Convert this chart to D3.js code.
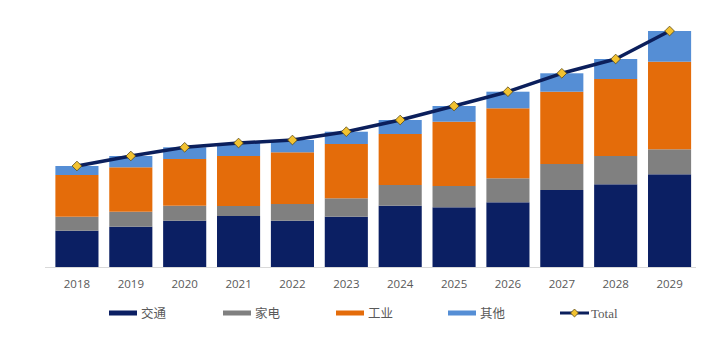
<!DOCTYPE html>
<html>
  <head>
    <meta charset="utf-8" />
    <script src="https://d3js.org/d3.v7.min.js"></script>
    <style>
      html, body {
        margin: 0;
        padding: 0;
        background: #fff;
      }
      #chart svg {
        display: block;
      }
    </style>
  </head>
  <body>
    <div id="chart"></div>
    <script>
      var width = 720;
      var height = 340;

      // data
      var years = ["2018", "2019", "2020", "2021", "2022", "2023", "2024", "2025", "2026", "2027", "2028", "2029"];
      var transport = [36.3, 40.3, 46.3, 51.0, 46.3, 50.3, 61.3, 59.7, 64.7, 77.0, 82.7, 92.7];   // 交通
      var appliance = [14.0, 15.0, 15.0, 10.0, 16.7, 18.4, 20.7, 21.3, 24.0, 26.0, 28.3, 25.0];  // 家电
      var industry = [41.7, 44.4, 46.7, 50.0, 51.7, 54.3, 51.0, 64.3, 70.0, 72.3, 77.0, 87.6];   // 工业
      var others = [9.0, 11.3, 11.7, 13.0, 12.3, 12.3, 14.0, 15.7, 16.6, 18.4, 20.0, 30.7];      // 其他

      var seriesNames = ["交通", "家电", "工业", "其他"];
      var seriesColors = ["#0b1f63", "#808080", "#e46c0a", "#558ed5"];
      var lineColor = "#0b1f5c";
      var markerColor = "#f2c230";

      var rows = years.map(function (y, i) {
        return { year: y, "交通": transport[i], "家电": appliance[i], "工业": industry[i], "其他": others[i] };
      });
      var totals = rows.map(function (r) {
        return { year: r.year, total: r["交通"] + r["家电"] + r["工业"] + r["其他"] };
      });

      var svg = d3.select("#chart").append("svg")
        .attr("width", width)
        .attr("height", height);

      var x = d3.scaleBand()
        .domain(years)
        .range([50, 696.5])
        .paddingInner(0.2)
        .paddingOuter(0.1);

      var y = d3.scaleLinear()
        .domain([0, 250])
        .range([267, 17]);

      var stack = d3.stack().keys(seriesNames);
      var layers = stack(rows);

      svg.append("g")
        .selectAll("g")
        .data(layers)
        .join("g")
        .attr("fill", function (d, i) { return seriesColors[i]; })
        .selectAll("rect")
        .data(function (d) { return d; })
        .join("rect")
        .attr("x", function (d) { return x(d.data.year); })
        .attr("width", x.bandwidth())
        .attr("y", function (d) { return y(d[1]); })
        .attr("height", function (d) { return y(d[0]) - y(d[1]); });

      // x axis
      var xAxis = svg.append("g")
        .attr("transform", "translate(0," + y(0) + ")")
        .call(d3.axisBottom(x).tickSize(0).tickPadding(13));
      xAxis.select(".domain")
        .attr("stroke", "#d9d9d9")
        .attr("d", "M45,0.5H696");
      xAxis.selectAll("text")
        .attr("fill", "#595959")
        .style("font-family", "'Open Sans', 'Liberation Sans', sans-serif")
        .style("font-size", "11.5px");

      // total line
      var line = d3.line()
        .x(function (d) { return x(d.year) + x.bandwidth() / 2; })
        .y(function (d) { return y(d.total); });

      svg.append("path")
        .datum(totals)
        .attr("fill", "none")
        .attr("stroke", lineColor)
        .attr("stroke-width", 3.5)
        .attr("stroke-linejoin", "round")
        .attr("d", line);

      var diamond = d3.symbol().type(d3.symbolDiamond2).size(60);

      svg.append("g")
        .selectAll("path")
        .data(totals)
        .join("path")
        .attr("transform", function (d) {
          return "translate(" + (x(d.year) + x.bandwidth() / 2) + "," + y(d.total) + ")";
        })
        .attr("d", diamond)
        .attr("fill", markerColor)
        .attr("stroke", "#5a4a16")
        .attr("stroke-width", 0.8);

      // legend
      var legendX = [109, 223, 336, 448];
      var legendY = 313;
      var legend = svg.append("g");

      seriesNames.forEach(function (name, i) {
        legend.append("rect")
          .attr("x", legendX[i])
          .attr("y", legendY - 2.5)
          .attr("width", 28)
          .attr("height", 5)
          .attr("fill", seriesColors[i]);
        legend.append("text")
          .attr("x", legendX[i] + 32)
          .attr("y", legendY)
          .attr("dy", "0.36em")
          .attr("fill", "#595959")
          .style("font-family", "'Noto Sans CJK SC', serif")
          .style("font-size", "12.5px")
          .text(name);
      });

      legend.append("line")
        .attr("x1", 560)
        .attr("x2", 589)
        .attr("y1", legendY)
        .attr("y2", legendY)
        .attr("stroke", lineColor)
        .attr("stroke-width", 3);
      legend.append("path")
        .attr("transform", "translate(574.5," + legendY + ")")
        .attr("d", d3.symbol().type(d3.symbolDiamond2).size(40))
        .attr("fill", markerColor)
        .attr("stroke", "#5a4a16")
        .attr("stroke-width", 0.8);
      legend.append("text")
        .attr("x", 591)
        .attr("y", legendY)
        .attr("dy", "0.35em")
        .attr("fill", "#595959")
        .style("font-family", "'Liberation Serif', serif")
        .style("font-size", "13px")
        .text("Total");
    </script>
  </body>
</html>
